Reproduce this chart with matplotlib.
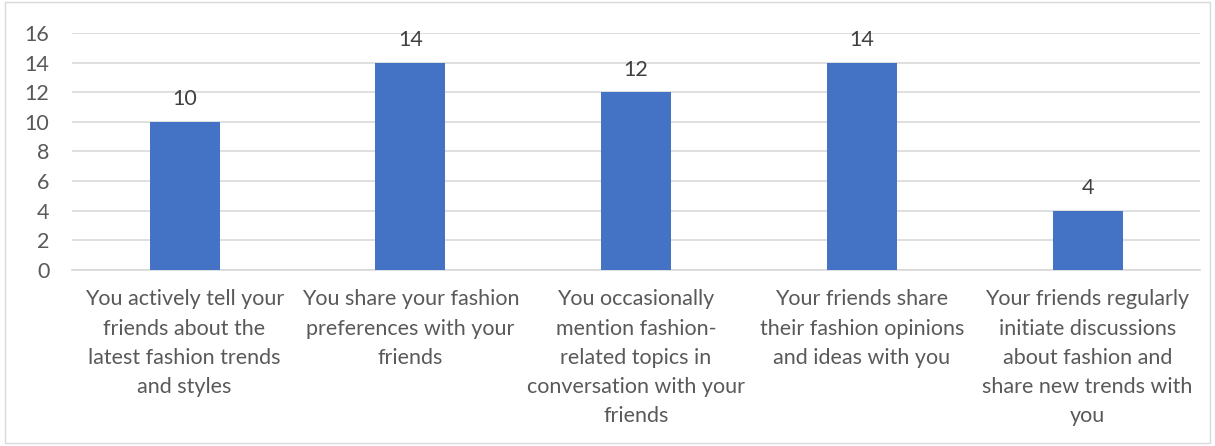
import matplotlib.pyplot as plt
import numpy as np

categories = [
    "You actively tell your\nfriends about the\nlatest fashion trends\nand styles",
    "You share your fashion\npreferences with your\nfriends",
    "You occasionally\nmention fashion-\nrelated topics in\nconversation with your\nfriends",
    "Your friends share\ntheir fashion opinions\nand ideas with you",
    "Your friends regularly\ninitiate discussions\nabout fashion and\nshare new trends with\nyou",
]
values = [10, 14, 12, 14, 4]
yticks = [0, 2, 4, 6, 8, 10, 12, 14, 16]

plt.rcParams['font.family'] = ['Lato', 'DejaVu Sans']
text_color = "#595959"

fig = plt.figure(figsize=(12.15, 4.46), dpi=100)
ax = fig.add_axes([0.059, 0.395, 0.929, 0.531])

x = np.arange(len(values))
bars = ax.bar(x, values, width=0.31, color="#4472C4", zorder=3)
for xi, v in zip(x, values):
    ax.text(xi, v + 0.85, str(v), ha="center", va="bottom", fontsize=15.5, color="#404040")

ax.set_xlim(-0.5, len(values) - 0.5)
ax.set_ylim(0, 16)
ax.set_yticks(yticks)
ax.set_xticks(x)
ax.set_xticklabels(categories, fontsize=15.5, color=text_color, linespacing=1.58)
ax.tick_params(axis="y", labelsize=15.5, labelcolor=text_color, length=0, pad=16)
ax.tick_params(axis="x", length=0, pad=14)
ax.grid(axis="y", color="#d9d9d9", linewidth=1.2, zorder=0)
for s in ["top", "right", "left"]:
    ax.spines[s].set_visible(False)
ax.spines["bottom"].set_color("#d9d9d9")
ax.spines["bottom"].set_linewidth(1.2)

# outer chart border
fig.patches.append(plt.Rectangle((0.004, 0.006), 0.992, 0.99, transform=fig.transFigure,
                                 fill=False, edgecolor="#d9d9d9", linewidth=1))

fig.savefig("out.png", dpi=100)
